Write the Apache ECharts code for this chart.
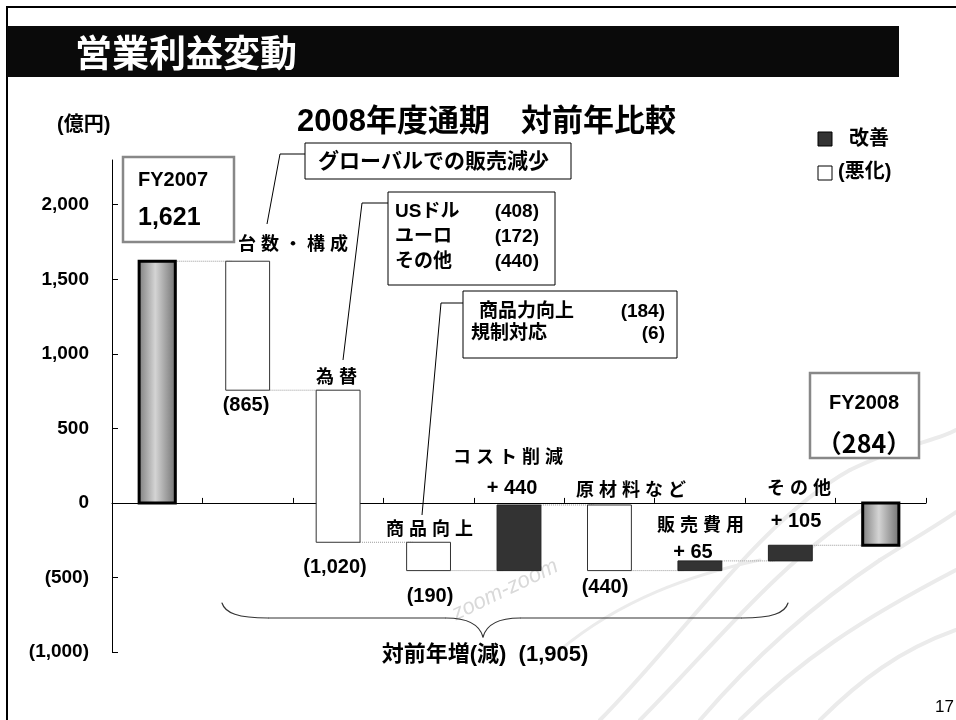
<!DOCTYPE html>
<html>
<head>
<meta charset="utf-8">
<script src="https://cdn.jsdelivr.net/npm/echarts@6/dist/echarts.min.js"></script>
<style>
html, body { margin: 0; padding: 0; background: #fff; }
#main { width: 956px; height: 720px; }
</style>
</head>
<body>
<div id="main"></div>
<script>
// 営業利益変動 2008年度通期 対前年比較 (億円)
var categories = ['FY2007', '台数・構成', '為替', '商品向上', 'コスト削減', '原材料など', '販売費用', 'その他', 'FY2008'];
var startValue = 1621;
var changes = [-865, -1020, -190, 440, -440, 65, 105];
var endValue = -284;
var totalChange = -1905;
var yTicks = [-1000, -500, 0, 500, 1000, 1500, 2000];

// 為替の内訳
var fxNames = ['USドル', 'ユーロ', 'その他'];
var fxValues = [-408, -172, -440];
// 商品向上の内訳
var productNames = ['商品力向上', '規制対応'];
var productValues = [-184, -6];

var FF = '"Liberation Sans", "Noto Sans CJK JP", sans-serif';

function withComma(v) {
  return String(Math.abs(v)).replace(/\B(?=(\d{3})+(?!\d))/g, ',');
}
function fmtChange(v) {
  return v < 0 ? '(' + withComma(v) + ')' : '+ ' + withComma(v);
}
function fmtAxis(v) {
  if (yTicks.indexOf(v) < 0) return '';
  return v < 0 ? '(' + withComma(v) + ')' : withComma(v);
}
function spaced(s) {
  return s.split('').join(' ');
}

// waterfall: [index, low, high, kind, level after]
var bars = [];
var level = startValue;
bars.push([0, 0, startValue, 'total', startValue]);
changes.forEach(function (c, k) {
  var prev = level;
  level = prev + c;
  bars.push([k + 1, Math.min(prev, level), Math.max(prev, level), c > 0 ? 'up' : 'down', level]);
});
bars.push([categories.length - 1, Math.min(0, endValue), Math.max(0, endValue), 'total', endValue]);

function barRatio(i) {
  return (i === 0 || i === categories.length - 1) ? 0.40 : 0.485;
}

function renderBar(params, api) {
  var b = bars[params.dataIndex];
  var i = b[0];
  var top = api.coord([i, b[2]]);
  var bot = api.coord([i, b[1]]);
  var catW = api.size([1, 0])[0];
  var w = catW * barRatio(i);
  var style;
  if (b[3] === 'total') {
    style = {
      fill: {
        type: 'linear', x: 0, y: 0, x2: 1, y2: 0,
        colorStops: [
          { offset: 0, color: '#7a7a7a' },
          { offset: 0.45, color: '#d4d4d4' },
          { offset: 1, color: '#6e6e6e' }
        ]
      },
      stroke: '#000', lineWidth: 3
    };
  } else if (b[3] === 'up') {
    style = { fill: '#333333', stroke: '#222', lineWidth: 1 };
  } else {
    style = { fill: '#ffffff', stroke: '#333', lineWidth: 1 };
  }
  var children = [];
  if (i < categories.length - 1) {
    var p = api.coord([i, b[4]]);
    var q = api.coord([i + 1, b[4]]);
    var nw = catW * barRatio(i + 1);
    children.push({
      type: 'line',
      shape: { x1: p[0] + w / 2, y1: p[1], x2: q[0] - nw / 2 + 6, y2: q[1] },
      style: { stroke: '#999', lineWidth: 1, lineDash: [1, 1] }
    });
  }
  children.push({
    type: 'rect',
    shape: { x: top[0] - w / 2, y: top[1], width: w, height: bot[1] - top[1] },
    style: style
  });
  return { type: 'group', children: children };
}

function txt(x, y, text, size, opts) {
  opts = opts || {};
  return {
    type: 'text', x: x, y: y, z: 10,
    style: {
      text: text,
      fill: opts.color || '#000',
      font: (opts.weight || 'bold') + ' ' + size + 'px ' + (opts.family || FF),
      align: opts.align || 'left',
      verticalAlign: 'middle'
    }
  };
}
function box(x, y, w, h, stroke, lw) {
  return { type: 'rect', z: 9, shape: { x: x, y: y, width: w, height: h },
    style: { fill: '#fff', stroke: stroke || '#000', lineWidth: lw || 1 } };
}
function leader(points) {
  return { type: 'polyline', z: 9, shape: { points: points },
    style: { stroke: '#000', lineWidth: 1, fill: null } };
}
function curve(x1, y1, c1x, c1y, c2x, c2y, x2, y2, color, width, z) {
  return { type: 'bezierCurve', z: z == null ? 5 : z,
    shape: { x1: x1, y1: y1, cpx1: c1x, cpy1: c1y, cpx2: c2x, cpy2: c2y, x2: x2, y2: y2 },
    style: { stroke: color || '#333', lineWidth: width || 1.2, fill: null, lineCap: 'round' } };
}

var WM = '#ebebeb';
var graphics = [
  // 枠・見出し
  { type: 'rect', z: 1, shape: { x: 7, y: 7, width: 980, height: 760 }, style: { fill: null, stroke: '#000', lineWidth: 2 } },
  { type: 'rect', z: 1, shape: { x: 7, y: 26, width: 892, height: 51 }, style: { fill: '#0a0a0a' } },
  txt(75, 53, '営業利益変動', 37, { color: '#fff', family: '"Noto Sans CJK JP", sans-serif' }),
  txt(297, 122, '2008年度通期　対前年比較', 31),
  txt(57, 125, '(億円)', 20),
  // 凡例
  { type: 'rect', z: 9, shape: { x: 818, y: 132, width: 14, height: 14 }, style: { fill: '#333', stroke: '#000', lineWidth: 1 } },
  txt(849, 139, '改善', 20),
  { type: 'rect', z: 9, shape: { x: 818, y: 166, width: 14, height: 14 }, style: { fill: '#fff', stroke: '#000', lineWidth: 1 } },
  txt(838, 172, '(悪化)', 20),
  // FY2007
  box(123, 157, 111, 85, '#888', 2.5),
  txt(138, 180, categories[0], 20),
  txt(138, 218, withComma(startValue), 25),
  // FY2008
  box(810, 373, 109, 85, '#888', 2.5),
  txt(864, 403, categories[8], 20, { align: 'center' }),
  txt(864, 443, '（' + withComma(endValue) + '）', 25, { align: 'center', family: '"Noto Sans CJK JP", sans-serif' }),
  // 吹き出し: 台数・構成
  leader([[267, 224], [280, 154], [305, 154]]),
  box(305, 143, 266, 36),
  txt(318, 162, 'グローバルでの販売減少', 21),
  // 吹き出し: 為替
  leader([[343, 360], [362, 203], [388, 203]]),
  box(388, 192, 167, 93),
  // 吹き出し: 商品向上
  leader([[422, 515], [441, 303], [463, 303]]),
  box(463, 291, 214, 67),
  // 中括弧
  curve(222, 603, 225, 613, 238, 618, 268, 618),
  { type: 'line', z: 5, shape: { x1: 268, y1: 618, x2: 446, y2: 618 }, style: { stroke: '#333', lineWidth: 1.2 } },
  curve(446, 618, 470, 618, 480, 626, 483, 637),
  curve(483, 637, 486, 626, 496, 618, 520, 618),
  { type: 'line', z: 5, shape: { x1: 520, y1: 618, x2: 742, y2: 618 }, style: { stroke: '#333', lineWidth: 1.2 } },
  curve(742, 618, 772, 618, 785, 613, 788, 603),
  txt(485, 655, '対前年増(減)  ' + fmtChange(totalChange), 22, { align: 'center' }),
  txt(954, 707, '17', 17, { align: 'right', weight: 'normal' })
];

// 為替内訳
fxNames.forEach(function (n, k) {
  graphics.push(txt(395, 212 + k * 25, n, 19));
  graphics.push(txt(539, 212 + k * 25, fmtChange(fxValues[k]), 19, { align: 'right' }));
});
// 商品向上内訳
productNames.forEach(function (n, k) {
  graphics.push(txt(k === 0 ? 479 : 471, 312 + k * 22, n, 19));
  graphics.push(txt(665, 312 + k * 22, fmtChange(productValues[k]), 19, { align: 'right' }));
});

// 項目名とその増減
var catLabelPos = [null, [238, 245], [316, 378], [386, 530], [453, 458], [576, 491], [657, 526], [767, 489]];
var valLabelPos = [null, [246, 405], [335, 567], [430, 596], [512, 488], [605, 587], [693, 552], [796, 521]];
for (var i = 1; i < categories.length - 1; i++) {
  graphics.push(txt(catLabelPos[i][0], catLabelPos[i][1], spaced(categories[i]), 18));
  graphics.push(txt(valLabelPos[i][0], valLabelPos[i][1], fmtChange(changes[i - 1]), 20, { align: 'center' }));
}

// 透かし (zoom-zoom) : 背面の別レイヤー
var watermark = [
  curve(600, 720, 680, 640, 760, 520, 850, 470, WM, 4, 0),
  curve(850, 470, 900, 445, 940, 440, 956, 430, WM, 4, 0),
  curve(640, 720, 710, 650, 780, 560, 870, 505, WM, 4, 0),
  curve(700, 720, 760, 650, 820, 600, 880, 560, WM, 4, 0),
  curve(880, 560, 920, 535, 945, 520, 956, 512, WM, 4, 0),
  curve(740, 720, 800, 660, 860, 620, 956, 570, WM, 4, 0),
  curve(560, 650, 620, 600, 690, 575, 760, 560, WM, 3, 0),
  curve(820, 720, 860, 680, 900, 650, 956, 630, WM, 4, 0),
  { type: 'text', x: 505, y: 590, rotation: 0.45, z: 0,
    style: { text: 'zoom-zoom', fill: '#d9d9d9', font: 'italic 22px ' + FF, align: 'center', verticalAlign: 'middle' } }
];

var chart = echarts.init(document.getElementById('main'));
chart.setOption({
  animation: false,
  grid: { left: 112, right: 30, top: 160, bottom: 68 },
  xAxis: {
    type: 'category',
    data: categories,
    axisLine: { onZero: true, lineStyle: { color: '#000', width: 1 } },
    axisTick: { show: true, inside: true, length: 5, lineStyle: { color: '#000' } },
    axisLabel: { show: false },
    splitLine: { show: false }
  },
  yAxis: {
    type: 'value',
    min: -1000,
    max: 2300,
    interval: 500,
    axisLine: { show: true, lineStyle: { color: '#000', width: 1 } },
    axisTick: { show: true, inside: true, length: 6, lineStyle: { color: '#000' }, customValues: yTicks },
    axisLabel: {
      customValues: yTicks,
      formatter: fmtAxis,
      margin: 23,
      color: '#000',
      fontSize: 19,
      fontWeight: 'bold',
      fontFamily: FF
    },
    splitLine: { show: false }
  },
  series: [{
    type: 'custom',
    renderItem: renderBar,
    encode: { x: 0, y: [1, 2] },
    data: bars.map(function (b) { return [b[0], b[1], b[2]]; }),
    z: 5
  }],
  graphic: [
    { type: 'group', zlevel: -1, children: watermark },
    { type: 'group', children: graphics }
  ]
});
window.onresize = function () { chart.resize(); };
</script>
</body>
</html>
